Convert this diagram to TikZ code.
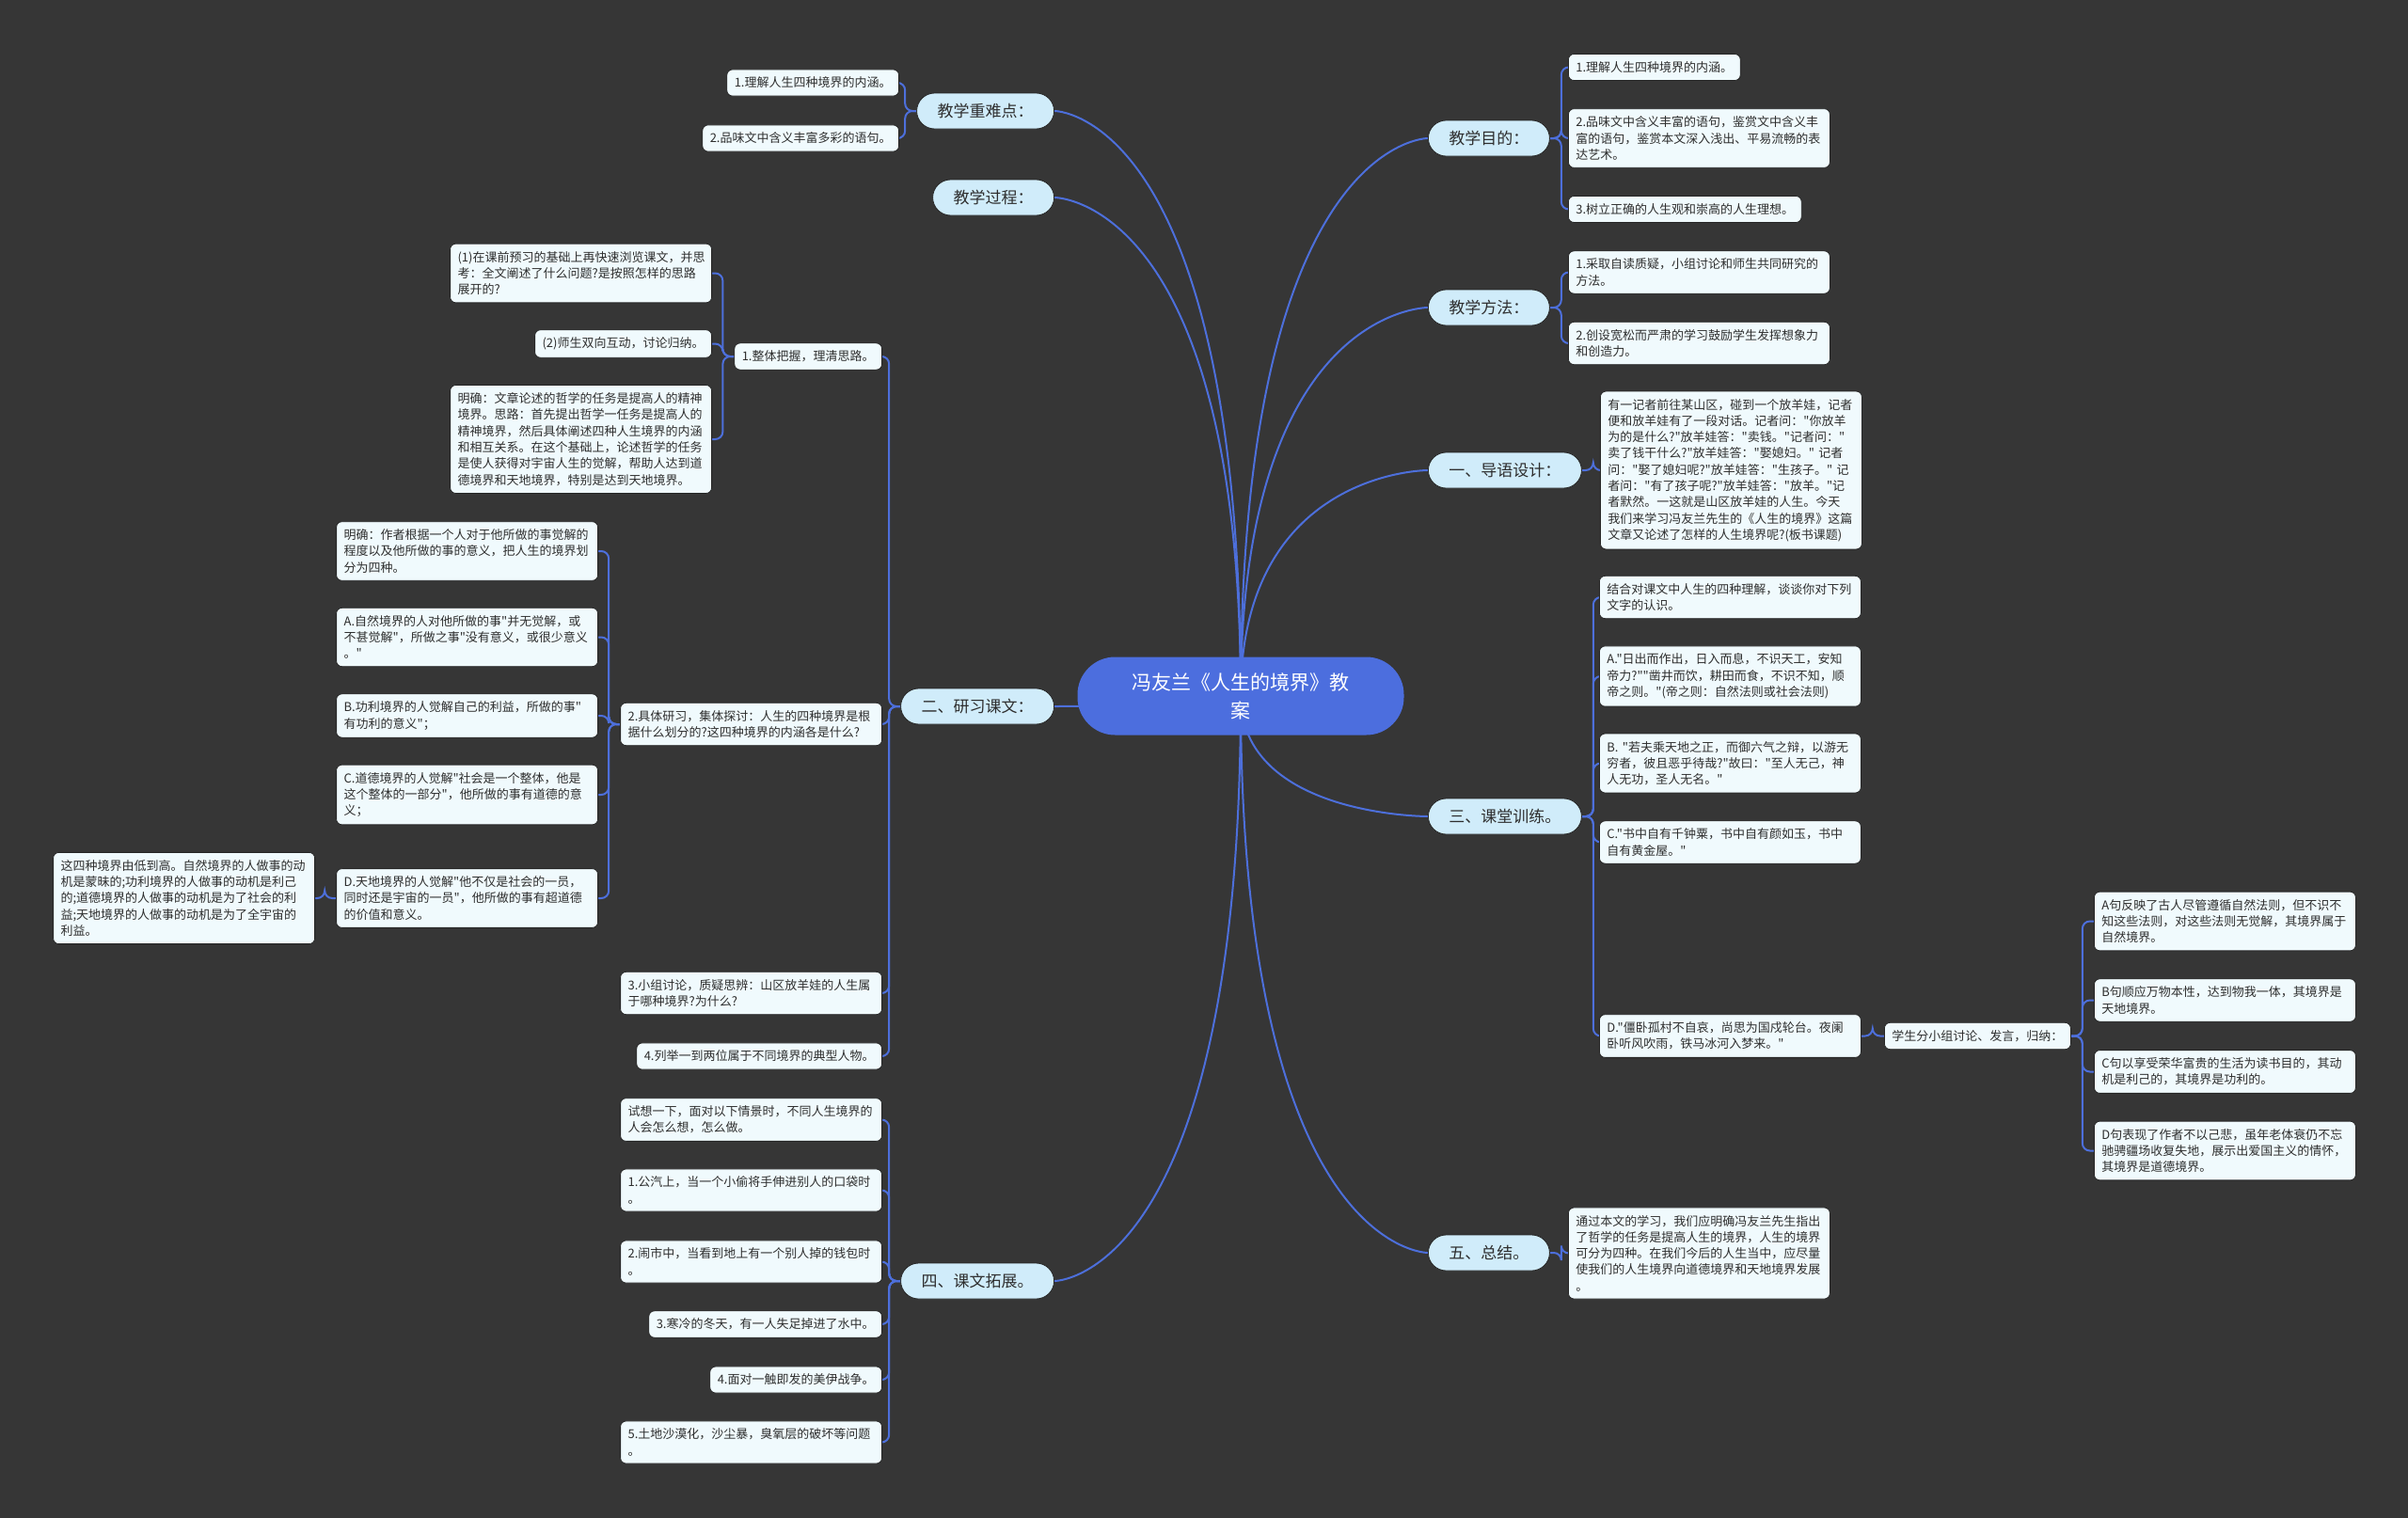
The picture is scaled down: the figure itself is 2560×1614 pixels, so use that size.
\documentclass[tikz,border=0pt]{standalone}
\usepackage{fontspec}
\setmainfont{Noto Sans CJK SC}[Ligatures=TeXOff]
\usetikzlibrary{calc}
\definecolor{bgc}{HTML}{363636}
\definecolor{linec}{HTML}{4D6FDB}
\definecolor{centerc}{HTML}{4C6EDE}
\definecolor{branchc}{HTML}{D0ECFA}
\definecolor{leafc}{HTML}{F0FAFD}
\definecolor{txtc}{HTML}{2E2E2E}
\definecolor{edgec}{HTML}{262626}
\pgfdeclarelayer{bg}
\pgfdeclarelayer{edges}
\pgfsetlayers{bg,edges,main}
\tikzset{
  rootnode/.style={fill=centerc, text=white, rounded corners=40pt, minimum width=347pt, minimum height=83pt, align=center, font=\fontsize{21}{30}\selectfont, inner sep=0pt},
  branchnode/.style={fill=branchc, draw=edgec, line width=0.8pt, text=txtc, rounded corners=19pt, minimum height=38pt, inner xsep=22pt, inner ysep=0pt, font=\fontsize{17}{20}\selectfont},
  leafnode/.style={fill=leafc, draw=edgec, line width=0.8pt, text=txtc, rounded corners=6pt, inner xsep=8pt, inner ysep=8pt, align=left, font=\fontsize{13}{17.3}\selectfont},
  wide/.style={leafnode, text width=262pt},
  link/.style={draw=linec, line width=2pt},
  conn/.style={draw=linec, line width=2pt, rounded corners=8pt},
}
\begin{document}
\begin{tikzpicture}[x=1pt,y=-1pt]
\begin{pgfonlayer}{bg}
\fill[bgc] (0,0) rectangle (2560,1614);
\end{pgfonlayer}
\useasboundingbox (0,0) rectangle (2560,1614);

% center
\node[rootnode] (c) at (1319,740) {冯友兰《人生的境界》教\\案};

% right branches
\node[branchnode, anchor=west] (r1) at (1518,147) {教学目的：};
\node[branchnode, anchor=west] (r2) at (1518,327) {教学方法：};
\node[branchnode, anchor=west] (r3) at (1518,500) {一、导语设计：};
\node[branchnode, anchor=west] (r4) at (1518,868) {三、课堂训练。};
\node[branchnode, anchor=west] (r5) at (1518,1332) {五、总结。};

% left branches
\node[branchnode, anchor=east] (l1) at (1121,118) {教学重难点：};
\node[branchnode, anchor=east] (l2) at (1121,210) {教学过程：};
\node[branchnode, anchor=east] (l3) at (1121,751) {二、研习课文：};
\node[branchnode, anchor=east] (l4) at (1121,1362) {四、课文拓展。};

% right leaves
\node[leafnode, anchor=west] (r1a) at (1667,71.5) {1.理解人生四种境界的内涵。};
\node[wide, anchor=west] (r1b) at (1667,147) {2.品味文中含义丰富的语句，鉴赏文中含义丰\\富的语句，鉴赏本文深入浅出、平易流畅的表\\达艺术。};
\node[leafnode, anchor=west] (r1c) at (1667,222.5) {3.树立正确的人生观和崇高的人生理想。};
\node[wide, anchor=west] (r2a) at (1667,289.5) {1.采取自读质疑，小组讨论和师生共同研究的\\方法。};
\node[wide, anchor=west] (r2b) at (1667,365) {2.创设宽松而严肃的学习鼓励学生发挥想象力\\和创造力。};
\node[wide, anchor=west] (r3a) at (1701,500) {有一记者前往某山区，碰到一个放羊娃，记者\\便和放羊娃有了一段对话。记者问："你放羊\\为的是什么?"放羊娃答："卖钱。"记者问："\\卖了钱干什么?"放羊娃答："娶媳妇。" 记者\\问："娶了媳妇呢?"放羊娃答："生孩子。" 记\\者问："有了孩子呢?"放羊娃答："放羊。"记\\者默然。一这就是山区放羊娃的人生。今天\\我们来学习冯友兰先生的《人生的境界》这篇\\文章又论述了怎样的人生境界呢?(板书课题)};
\node[wide, anchor=west] (r4a) at (1700,635) {结合对课文中人生的四种理解，谈谈你对下列\\文字的认识。};
\node[wide, anchor=west] (r4b) at (1700,719) {A."日出而作出，日入而息，不识天工，安知\\帝力?""凿井而饮，耕田而食，不识不知，顺\\帝之则。"(帝之则：自然法则或社会法则)};
\node[wide, anchor=west] (r4c) at (1700,811.5) {B. "若夫乘天地之正，而御六气之辩，以游无\\穷者，彼且恶乎待哉?"故曰："至人无己，神\\人无功，圣人无名。"};
\node[wide, anchor=west] (r4d) at (1700,895.5) {C."书中自有千钟粟，书中自有颜如玉，书中\\自有黄金屋。"};
\node[wide, anchor=west] (r4e) at (1700,1101.5) {D."僵卧孤村不自哀，尚思为国戍轮台。夜阑\\卧听风吹雨，铁马冰河入梦来。"};
\node[leafnode, anchor=west] (r4f) at (2003,1101.5) {学生分小组讨论、发言，归纳：};
\node[wide, anchor=west] (r4g) at (2226,979.5) {A句反映了古人尽管遵循自然法则，但不识不\\知这些法则，对这些法则无觉解，其境界属于\\自然境界。};
\node[wide, anchor=west] (r4h) at (2226,1063.5) {B句顺应万物本性，达到物我一体，其境界是\\天地境界。};
\node[wide, anchor=west] (r4i) at (2226,1139.5) {C句以享受荣华富贵的生活为读书目的，其动\\机是利己的，其境界是功利的。};
\node[wide, anchor=west] (r4j) at (2226,1223.5) {D句表现了作者不以己悲，虽年老体衰仍不忘\\驰骋疆场收复失地，展示出爱国主义的情怀，\\其境界是道德境界。};
\node[wide, anchor=west] (r5a) at (1667,1332.5) {通过本文的学习，我们应明确冯友兰先生指出\\了哲学的任务是提高人生的境界，人生的境界\\可分为四种。在我们今后的人生当中，应尽量\\使我们的人生境界向道德境界和天地境界发展\\。};

% left leaves
\node[leafnode, anchor=east] (l1a) at (956,88) {1.理解人生四种境界的内涵。};
\node[leafnode, anchor=east] (l1b) at (956,147) {2.品味文中含义丰富多彩的语句。};
\node[leafnode, anchor=east] (l3a) at (938,379) {1.整体把握，理清思路。};
\node[wide, anchor=east] (l3a1) at (757,290.5) {(1)在课前预习的基础上再快速浏览课文，并思\\考：全文阐述了什么问题?是按照怎样的思路\\展开的?};
\node[leafnode, anchor=east] (l3a2) at (757,365.5) {(2)师生双向互动，讨论归纳。};
\node[wide, anchor=east] (l3a3) at (757,467) {明确：文章论述的哲学的任务是提高人的精神\\境界。思路：首先提出哲学一任务是提高人的\\精神境界，然后具体阐述四种人生境界的内涵\\和相互关系。在这个基础上，论述哲学的任务\\是使人获得对宇宙人生的觉解，帮助人达到道\\德境界和天地境界，特别是达到天地境界。};
\node[wide, anchor=east] (l3b) at (938,770) {2.具体研习，集体探讨：人生的四种境界是根\\据什么划分的?这四种境界的内涵各是什么?};
\node[wide, anchor=east] (l3b1) at (636,586) {明确：作者根据一个人对于他所做的事觉解的\\程度以及他所做的事的意义，把人生的境界划\\分为四种。};
\node[wide, anchor=east] (l3b2) at (636,677.5) {A.自然境界的人对他所做的事"并无觉解，或\\不甚觉解"，所做之事"没有意义，或很少意义\\。"};
\node[wide, anchor=east] (l3b3) at (636,761) {B.功利境界的人觉解自己的利益，所做的事"\\有功利的意义"；};
\node[wide, anchor=east] (l3b4) at (636,845) {C.道德境界的人觉解"社会是一个整体，他是\\这个整体的一部分"，他所做的事有道德的意\\义；};
\node[wide, anchor=east] (l3b5) at (636,955) {D.天地境界的人觉解"他不仅是社会的一员，\\同时还是宇宙的一员"，他所做的事有超道德\\的价值和意义。};
\node[wide, anchor=east] (l3b5a) at (335,955) {这四种境界由低到高。自然境界的人做事的动\\机是蒙昧的;功利境界的人做事的动机是利己\\的;道德境界的人做事的动机是为了社会的利\\益;天地境界的人做事的动机是为了全宇宙的\\利益。};
\node[wide, anchor=east] (l3c) at (938,1056) {3.小组讨论，质疑思辨：山区放羊娃的人生属\\于哪种境界?为什么?};
\node[leafnode, anchor=east] (l3d) at (938,1123) {4.列举一到两位属于不同境界的典型人物。};
\node[wide, anchor=east] (l4a) at (938,1190.5) {试想一下，面对以下情景时，不同人生境界的\\人会怎么想，怎么做。};
\node[wide, anchor=east] (l4b) at (938,1265.5) {1.公汽上，当一个小偷将手伸进别人的口袋时\\。};
\node[wide, anchor=east] (l4c) at (938,1341.5) {2.闹市中，当看到地上有一个别人掉的钱包时\\。};
\node[leafnode, anchor=east] (l4d) at (938,1408) {3.寒冷的冬天，有一人失足掉进了水中。};
\node[leafnode, anchor=east] (l4e) at (938,1467) {4.面对一触即发的美伊战争。};
\node[wide, anchor=east] (l4f) at (938,1533.5) {5.土地沙漠化，沙尘暴，臭氧层的破坏等问题\\。};

\begin{pgfonlayer}{edges}
% center to branches
\foreach \b in {r1,r2,r3,r4,r5}{
  \draw[link] (c.center) .. controls (c.center |- \b.west) and (\b.west) .. (\b.west);
}
\foreach \b in {l1,l2,l3,l4}{
  \draw[link] (c.center) .. controls (c.center |- \b.east) and (\b.east) .. (\b.east);
}
% right brackets
\foreach \p/\k in {r1/r1a,r1/r1b,r1/r1c,r2/r2a,r2/r2b,r3/r3a,r4/r4a,r4/r4b,r4/r4c,r4/r4d,r4/r4e,r4e/r4f,r4f/r4g,r4f/r4h,r4f/r4i,r4f/r4j,r5/r5a}{
  \draw[conn] (\p.east) -- ++(12,0) |- (\k.west);
}
% left brackets
\foreach \p/\k in {l1/l1a,l1/l1b,l3/l3a,l3/l3b,l3/l3c,l3/l3d,l3a/l3a1,l3a/l3a2,l3a/l3a3,l3b/l3b1,l3b/l3b2,l3b/l3b3,l3b/l3b4,l3b/l3b5,l3b5/l3b5a,l4/l4a,l4/l4b,l4/l4c,l4/l4d,l4/l4e,l4/l4f}{
  \draw[conn] (\p.west) -- ++(-12,0) |- (\k.east);
}
\end{pgfonlayer}
\end{tikzpicture}
\end{document}
